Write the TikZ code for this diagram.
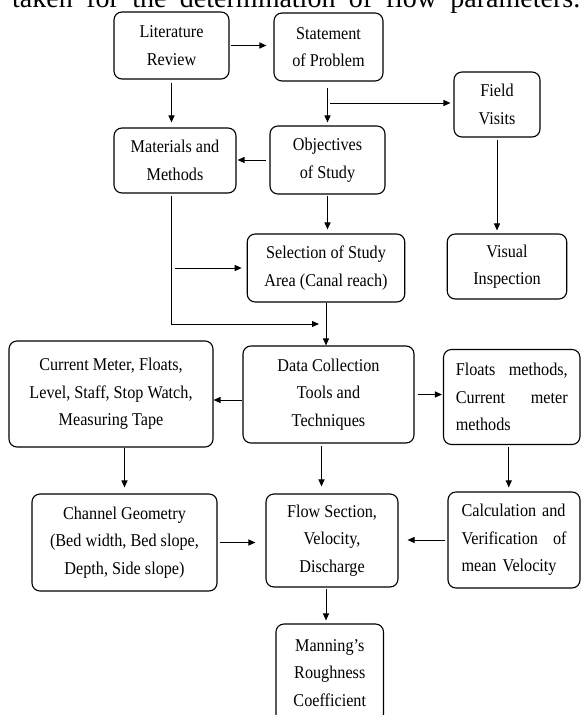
\documentclass[tikz,border=0pt]{standalone}
\usepackage{fontspec}
\setmainfont[FakeStretch=0.9]{Liberation Serif}
\newfontfamily\titlefont{Liberation Serif}
\usetikzlibrary{arrows.meta}
\tikzset{
  box/.style={draw, line width=1.1pt, rounded corners=8pt, inner sep=0pt, align=center,
    font=\fontsize{18}{27.5}\selectfont},
  arr/.style={line width=1pt, -{Triangle[length=7pt,width=6pt]}}
}
\begin{document}
\begin{tikzpicture}[x=1pt,y=-1pt]
\clip (0,0) rectangle (581,715);
\node[anchor=base west, inner sep=0pt, font=\titlefont\fontsize{28}{30}\selectfont] (title) at (12,7.5)
  {\makebox[568pt][s]{taken for the determination of flow parameters.}};

\node[box, minimum width=115pt, minimum height=67pt] (lit) at (171.5,45.5) {Literature\\Review};
\node[box, minimum width=109pt, minimum height=68pt] (stmt) at (328.5,47) {Statement\\of Problem};
\node[box, minimum width=86pt, minimum height=65pt] (field) at (497,104.5) {Field\\Visits};
\node[box, minimum width=122pt, minimum height=65pt] (mat) at (175,160.5) {Materials and\\Methods};
\node[box, minimum width=115pt, minimum height=68pt] (obj) at (327.5,160) {Objectives\\of Study};
\node[box, minimum width=157.5pt, minimum height=68pt] (sel) at (326,268) {Selection of Study\\Area (Canal reach)};
\node[box, minimum width=119.5pt, minimum height=65pt] (vis) at (507,266.5) {Visual\\Inspection};
\node[box, minimum width=204pt, minimum height=106pt] (cur) at (111,394) {Current Meter, Floats,\\Level, Staff, Stop Watch,\\Measuring Tape};
\node[box, minimum width=171pt, minimum height=97pt] (data) at (328.5,394.5) {Data Collection\\Tools and\\Techniques};
\node[box, minimum width=136.5pt, minimum height=95pt, text width=112pt, align=left] (floats) at (511.75,397)
  {Floats\hfill methods,\\Current\hfill meter\\methods};
\node[box, minimum width=185pt, minimum height=97pt] (chan) at (124.5,542.5) {Channel Geometry\\(Bed width, Bed slope,\\Depth, Side slope)};
\node[box, minimum width=132pt, minimum height=93pt] (flow) at (332,540.5) {Flow Section,\\Velocity,\\Discharge};
\node[box, minimum width=132pt, minimum height=96pt, text width=105pt, align=left] (calc) at (514,540)
  {Calculation and\\Verification\hfill of\\mean Velocity};
\node[box, minimum width=107.5pt, minimum height=98pt] (mann) at (329.75,673) {Manning's\\Roughness\\Coefficient};

% connectors
\draw[arr, shorten <=1pt, shorten >=7pt] (lit.east) -- (lit.east -| stmt.west);
\draw[arr, shorten <=3pt, shorten >=5pt] (lit.south) -- (lit.south |- mat.north);
\draw[arr, shorten <=6pt, shorten >=3pt] (obj.north |- stmt.south) -- (obj.north);
\coordinate (b1) at (330,103);
\draw[arr, shorten >=3pt] (b1) -- (b1 -| field.west);
\draw[arr, shorten <=3pt, shorten >=1pt] (obj.west) -- (obj.west -| mat.east);
\draw[arr, shorten <=1pt, shorten >=4pt] (obj.south) -- (obj.south |- sel.north);
\draw[arr, shorten <=2pt, shorten >=3pt] (field.south) -- (field.south |- vis.north);
\coordinate (m1) at ([xshift=-4pt]mat.south);
\coordinate (j) at (326,324);
\draw[arr, shorten <=2pt, shorten >=7pt] (m1) |- (j);
\coordinate (k) at (m1 |- sel.west);
\draw[arr, shorten <=4pt, shorten >=5pt] (k) -- (k -| sel.west);
\draw[arr] (sel.south) -- (sel.south |- data.north);
\coordinate (d1) at ([yshift=-5.5pt]data.west);
\draw[arr] (d1) -- (d1 -| cur.east);
\draw[arr, shorten <=3pt, shorten >=1pt] (data.east) -- (data.east -| floats.west);
\draw[arr, shorten >=6pt] (chan.north |- cur.south) -- (chan.north);
\coordinate (d2) at ([xshift=-7pt]data.south);
\draw[arr, shorten <=2pt, shorten >=7pt] (d2) -- (d2 |- flow.north);
\coordinate (f1) at ([xshift=-3pt]floats.south);
\draw[arr, shorten <=2pt, shorten >=4pt] (f1) -- (f1 |- calc.north);
\draw[arr, shorten <=2pt, shorten >=10pt] (chan.east) -- (chan.east -| flow.west);
\draw[arr, shorten <=2pt, shorten >=9pt] (calc.west) -- (calc.west -| flow.east);
\coordinate (fl1) at ([xshift=-6pt]flow.south);
\draw[arr, shorten <=1pt, shorten >=3pt] (fl1) -- (fl1 |- mann.north);
\end{tikzpicture}
\end{document}
